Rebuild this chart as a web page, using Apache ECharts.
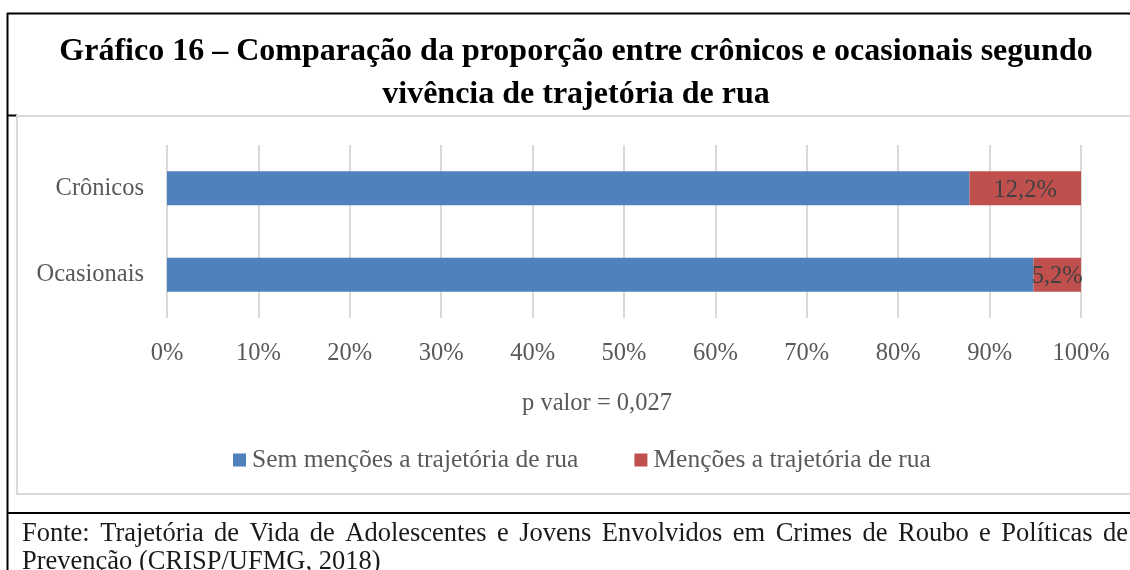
<!DOCTYPE html>
<html>
<head>
<meta charset="utf-8">
<script src="https://cdn.jsdelivr.net/npm/echarts@6/dist/echarts.min.js"></script>
<style>
  body { margin: 0; background: #fff; }
  #chart { width: 1130px; height: 570px; }
</style>
</head>
<body>
<div id="chart"></div>
<script>
// categories from bottom to top (category axis draws the first one at the bottom)
const categories = ['Ocasionais', 'Crônicos'];
const semMencoes = [94.8, 87.8];
const mencoes = [5.2, 12.2];
const seriesNames = ['Sem menções a trajetória de rua', 'Menções a trajetória de rua'];
const xTicks = [0, 10, 20, 30, 40, 50, 60, 70, 80, 90, 100];

const titleLines = [
  'Gráfico 16 – Comparação da proporção entre crônicos e ocasionais segundo',
  'vivência de trajetória de rua'
];
const axisNote = 'p valor = 0,027';
const fonteLines = [
  'Fonte: Trajetória de Vida de Adolescentes e Jovens Envolvidos em Crimes de Roubo e Políticas de',
  'Prevenção (CRISP/UFMG, 2018)'
];

const serif = '"Liberation Serif", "Times New Roman", serif';
const fonteFont = '26.5px ' + serif;
const chart = echarts.init(document.getElementById('chart'));

// justified first line of the source note: spread words between x0 and x1
function justifiedWords(line, x0, x1, y, font) {
  const ctx = document.createElement('canvas').getContext('2d');
  ctx.font = font;
  const words = line.split(' ');
  const widths = words.map(w => ctx.measureText(w).width);
  const total = widths.reduce((a, b) => a + b, 0);
  const gap = (x1 - x0 - total) / (words.length - 1);
  let x = x0;
  return words.map((w, i) => {
    const el = { type: 'text', x: x, y: y, style: { text: w, font: font, fill: '#1a1a1a', textVerticalAlign: 'middle' } };
    x += widths[i] + gap;
    return el;
  });
}

const options = {
  animation: false,
  backgroundColor: '#fff',
  textStyle: { fontFamily: serif },
  grid: { left: 167, right: 49, top: 145, height: 173, containLabel: false },
  legend: {
    left: 228,
    top: 442,
    itemWidth: 13,
    itemHeight: 13,
    itemGap: 56,
    icon: 'rect',
    textStyle: { fontSize: 25.5, color: '#595959', fontFamily: serif, padding: [0, 0, 0, 1] },
    data: seriesNames
  },
  xAxis: {
    type: 'value',
    min: xTicks[0],
    max: xTicks[xTicks.length - 1],
    interval: 10,
    axisLine: { show: false },
    axisTick: { show: false },
    axisLabel: {
      margin: 23,
      fontSize: 24.5,
      color: '#595959',
      fontFamily: serif,
      formatter: v => v + '%'
    },
    splitLine: { lineStyle: { color: '#d9d9d9', width: 2 } }
  },
  yAxis: {
    type: 'category',
    data: categories,
    axisLine: { show: false },
    axisTick: { show: false },
    axisLabel: { margin: 23, fontSize: 24.5, color: '#595959', fontFamily: serif }
  },
  series: [
    {
      name: seriesNames[0],
      type: 'bar',
      stack: 'total',
      barWidth: 34,
      itemStyle: { color: '#4f81bd' },
      data: semMencoes
    },
    {
      name: seriesNames[1],
      type: 'bar',
      stack: 'total',
      barWidth: 34,
      itemStyle: { color: '#c0504d' },
      label: {
        show: true,
        position: 'inside',
        offset: [0, 2],
        fontSize: 24.5,
        color: '#404040',
        fontFamily: serif,
        formatter: p => String(p.value).replace('.', ',') + '%'
      },
      data: mencoes
    }
  ],
  graphic: [
    // page frame
    { type: 'line', shape: { x1: 7, y1: 13.5, x2: 1130, y2: 13.5 }, style: { stroke: '#000', lineWidth: 2 } },
    { type: 'line', shape: { x1: 7.5, y1: 13, x2: 7.5, y2: 570 }, style: { stroke: '#000', lineWidth: 2 } },
    { type: 'line', shape: { x1: 7, y1: 115.5, x2: 17, y2: 115.5 }, style: { stroke: '#000', lineWidth: 2 } },
    { type: 'line', shape: { x1: 7, y1: 513, x2: 1130, y2: 513 }, style: { stroke: '#000', lineWidth: 2 } },
    // chart area border
    { type: 'rect', shape: { x: 17, y: 116, width: 1130, height: 378 }, style: { fill: 'none', stroke: '#d9d9d9', lineWidth: 2 } },
    // title
    { type: 'text', x: 576, y: 52, style: { text: titleLines[0], font: 'bold 32px ' + serif, fill: '#000', textAlign: 'center', textVerticalAlign: 'middle' } },
    { type: 'text', x: 576, y: 95, style: { text: titleLines[1], font: 'bold 32px ' + serif, fill: '#000', textAlign: 'center', textVerticalAlign: 'middle' } },
    // axis note
    { type: 'text', x: 597, y: 404, style: { text: axisNote, font: '24.5px ' + serif, fill: '#595959', textAlign: 'center', textVerticalAlign: 'middle' } },
    // source
    ...justifiedWords(fonteLines[0], 22, 1128, 534, fonteFont),
    { type: 'text', x: 22, y: 562, style: { text: fonteLines[1], font: fonteFont, fill: '#1a1a1a', textAlign: 'left', textVerticalAlign: 'middle' } }
  ]
};

chart.setOption(options);
</script>
</body>
</html>
